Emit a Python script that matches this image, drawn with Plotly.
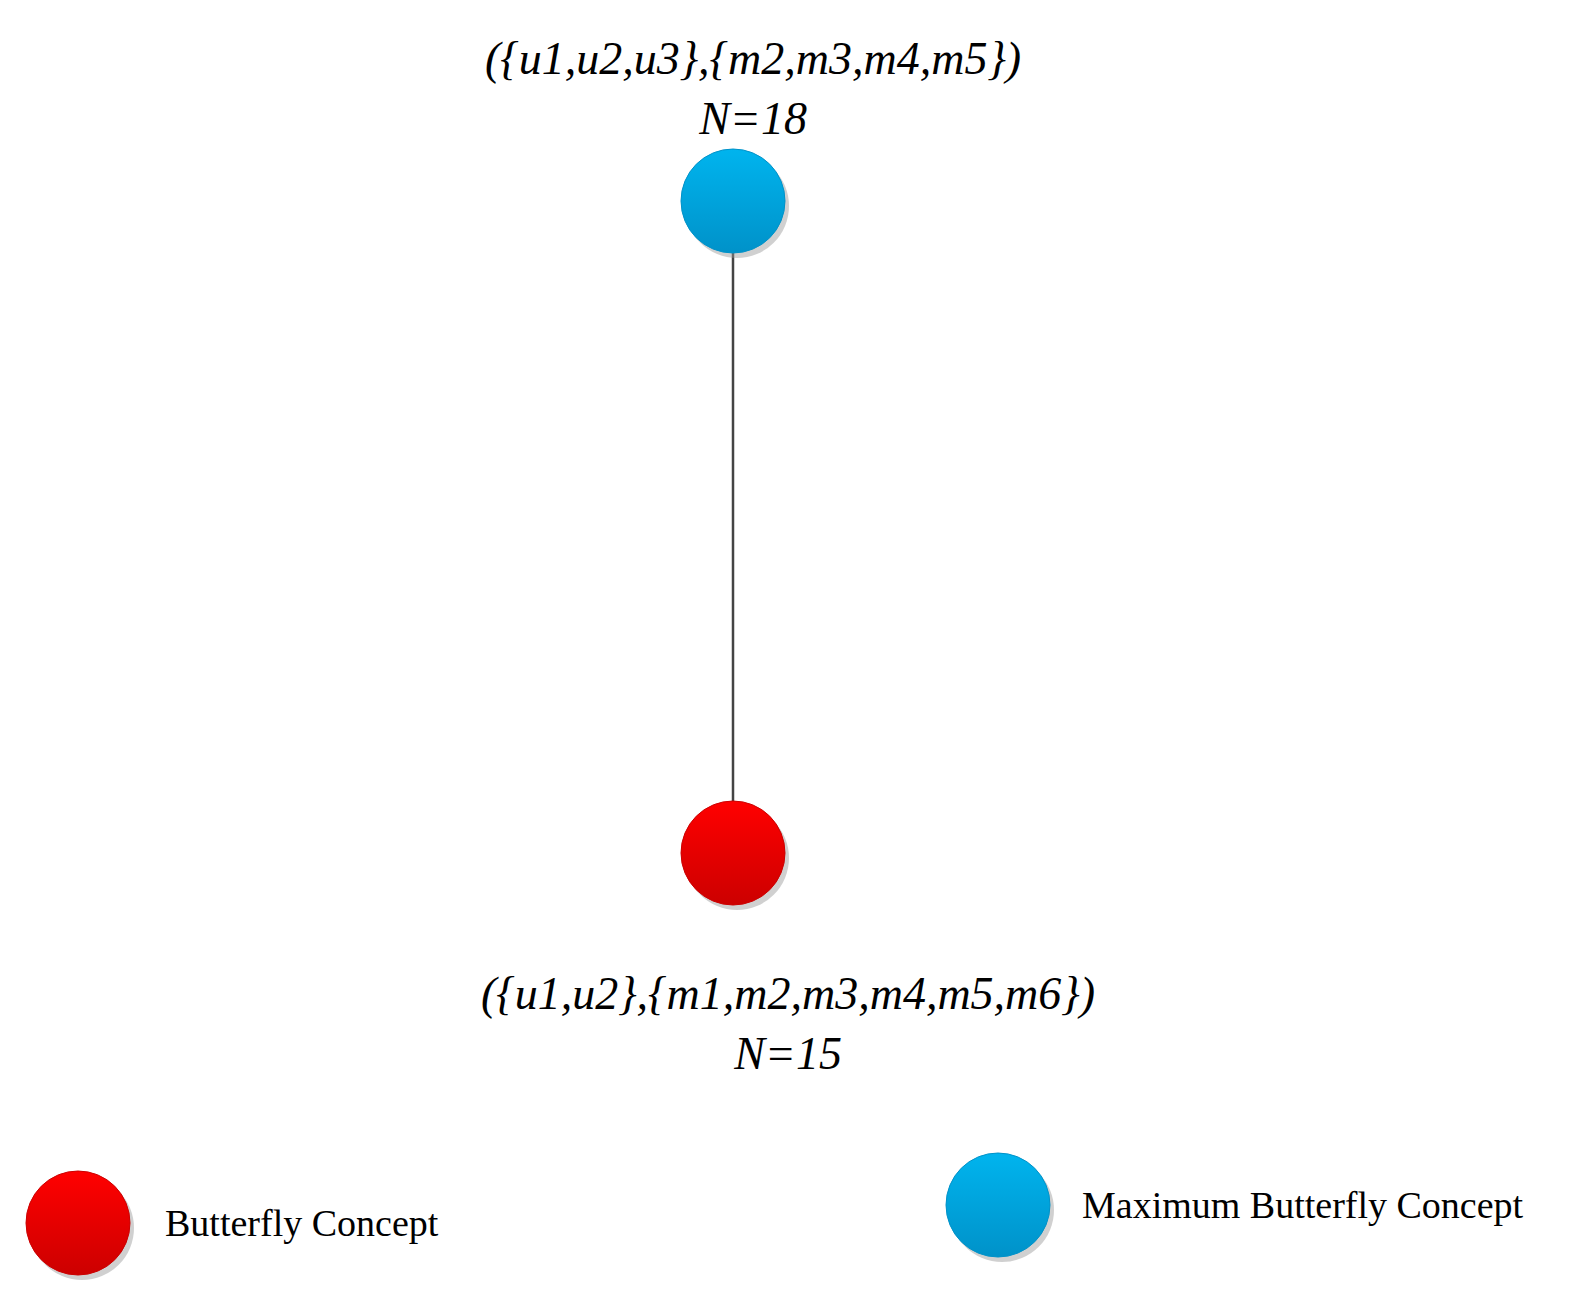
import plotly.graph_objects as go

# nodes of the concept lattice
node_names = ["({u1,u2,u3},{m2,m3,m4,m5})", "({u1,u2},{m1,m2,m3,m4,m5,m6})"]
node_counts = ["N=18", "N=15"]
node_kind = ["max", "butterfly"]
node_x = [725, 725]
node_y = [193, 845]
label_x = [745, 780]
label_y = [80, 1015]

legend_names = ["Butterfly Concept", "Maximum Butterfly Concept"]
legend_kind = ["butterfly", "max"]
legend_x = [70, 990]
legend_y = [1215, 1197]
legend_text_x = [155, 1072]

colors = {"max": ("#00B4EE", "#0092C9"), "butterfly": ("#FF0000", "#CC0000")}
W, H = 1596, 1307
R = 104

fig = go.Figure()
# edge
fig.add_trace(go.Scatter(x=node_x, y=node_y, mode="lines",
                         line=dict(color="#444444", width=2.5), hoverinfo="skip"))

def add_circle(xs, ys, kinds):
    # shadow
    fig.add_trace(go.Scatter(x=[v + 4 for v in xs], y=[v + 5 for v in ys], mode="markers",
                             marker=dict(size=R, color="rgba(150,150,150,0.45)", line_width=0),
                             hoverinfo="skip"))
    for x, y, k in zip(xs, ys, kinds):
        top, bottom = colors[k]
        fig.add_trace(go.Scatter(x=[x], y=[y], mode="markers",
                                 marker=dict(size=R, color=top, line=dict(color=bottom, width=1),
                                             gradient=dict(type="vertical", color=bottom)),
                                 hoverinfo="skip"))

add_circle(node_x, node_y, node_kind)
add_circle(legend_x, legend_y, legend_kind)

for name, cnt, x, y in zip(node_names, node_counts, label_x, label_y):
    fig.add_annotation(x=x, y=y, text=f"<i>{name}</i><br><i>{cnt}</i>", showarrow=False,
                       font=dict(family="Liberation Serif", size=46, color="black"),
                       align="center")

for name, x, y in zip(legend_names, legend_text_x, legend_y):
    fig.add_annotation(x=x, y=y, text=name, showarrow=False, xanchor="left",
                       font=dict(family="Liberation Serif", size=38, color="black"))

fig.update_layout(
    width=W, height=H, showlegend=False,
    margin=dict(l=0, r=0, t=0, b=0),
    plot_bgcolor="white", paper_bgcolor="white",
    xaxis=dict(range=[0, W], visible=False),
    yaxis=dict(range=[H, 0], visible=False),
)
fig.write_html("out.html")
